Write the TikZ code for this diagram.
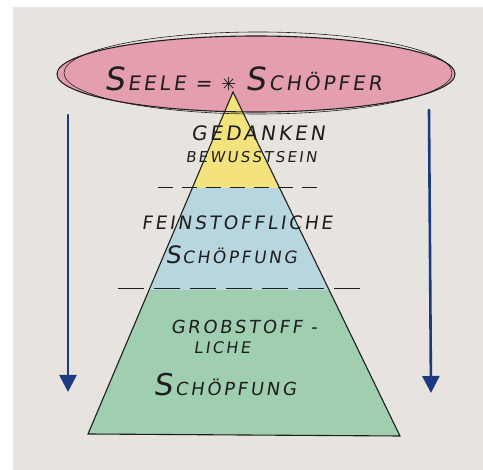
\documentclass[tikz,border=0pt]{standalone}
\usepackage{fontspec}
\newfontfamily\hand{DejaVu Sans}[FakeSlant=0.15,LetterSpace=15]
\newfontfamily\sym{DejaVu Sans}
\usetikzlibrary{arrows.meta}
\definecolor{paper}{RGB}{231,228,224}
\definecolor{pinkfill}{RGB}{228,158,174}
\definecolor{yel}{RGB}{244,226,125}
\definecolor{blu}{RGB}{184,214,224}
\definecolor{grn}{RGB}{160,206,176}
\definecolor{ink}{RGB}{30,30,30}
\definecolor{arrowblue}{RGB}{28,58,128}
\newcommand{\fs}[1]{\fontsize{#1}{#1}\selectfont}
\begin{document}
\begin{tikzpicture}[x=1pt,y=-1pt,
  outline/.style={draw=ink,line width=1.1pt},
  downarrow/.style={draw=arrowblue,line width=2.6pt,line cap=round,-{Triangle[width=17pt,length=17pt]}},
  divider/.style={draw=ink,line width=1pt},
  label/.style={text=ink,inner sep=0pt,font=\hand}]
\useasboundingbox (0,0) rectangle (483,470);
\fill[white] (0,0) rectangle (483,470);
\fill[paper] (13,7) rectangle (483,470);
% coordinates
\coordinate (ec) at (256,74);
\coordinate (apex) at (233,92);
\coordinate (bl) at (88,434);
\coordinate (br) at (400,436);
% ellipse fill
\fill[pinkfill] (ec) ellipse [x radius=198, y radius=38];
% pyramid fills
\begin{scope}
  \clip (apex) -- (bl) -- (br) -- cycle;
  \fill[yel] (0,92) rectangle (483,188);
  \fill[blu] (0,188) rectangle (483,290);
  \fill[grn] (0,290) rectangle (483,440);
\end{scope}
% ellipse outlines (sketchy double stroke)
\draw[outline] (ec) ellipse [x radius=199, y radius=38];
\draw[ink,line width=0.6pt] (258,73) ellipse [x radius=194, y radius=41];
% pyramid outline
\draw[outline] (apex) -- (bl) -- (br) -- cycle;
% dividers
\coordinate (d1a) at (158,188); \coordinate (d1b) at (317,188);
\coordinate (d2a) at (118,289); \coordinate (d2b) at (370,289);
\draw[divider,dash pattern=on 15pt off 9pt] (d1a) -- (d1b);
\draw[divider,dash pattern=on 26pt off 10pt] (d2a) -- (d2b);
% arrows
\coordinate (la1) at (68,115); \coordinate (la2) at (68,392);
\coordinate (ra1) at (429,110); \coordinate (ra2) at (431,393);
\draw[downarrow] (la1) -- (la2);
\draw[downarrow] (ra1) -- (ra2);
% texts
\node[label] (seele) at (243,79) {\fs{32}S\kern3pt\fs{20}EELE = {\sym\fs{18}✳} \fs{32}S\kern3pt\fs{20}CHÖPFER};
\node[label] (ged) at (258,133) {\fs{20}GEDANKEN};
\node[label] (bew) at (251,157) {\fs{15}BEWUSSTSEIN};
\node[label] (fein) at (237,223) {\fs{18.5}FEINSTOFFLICHE};
\node[label] (sch1) at (231,255) {\fs{24}S\kern2pt\fs{17}CHÖPFUNG};
\node[label] (grob) at (244,327) {\fs{18}GROBSTOFF -};
\node[label] (liche) at (222,348) {\fs{16}LICHE};
\node[label] (sch2) at (225,385) {\fs{30}S\kern2pt\fs{18}CHÖPFUNG};
\end{tikzpicture}
\end{document}
